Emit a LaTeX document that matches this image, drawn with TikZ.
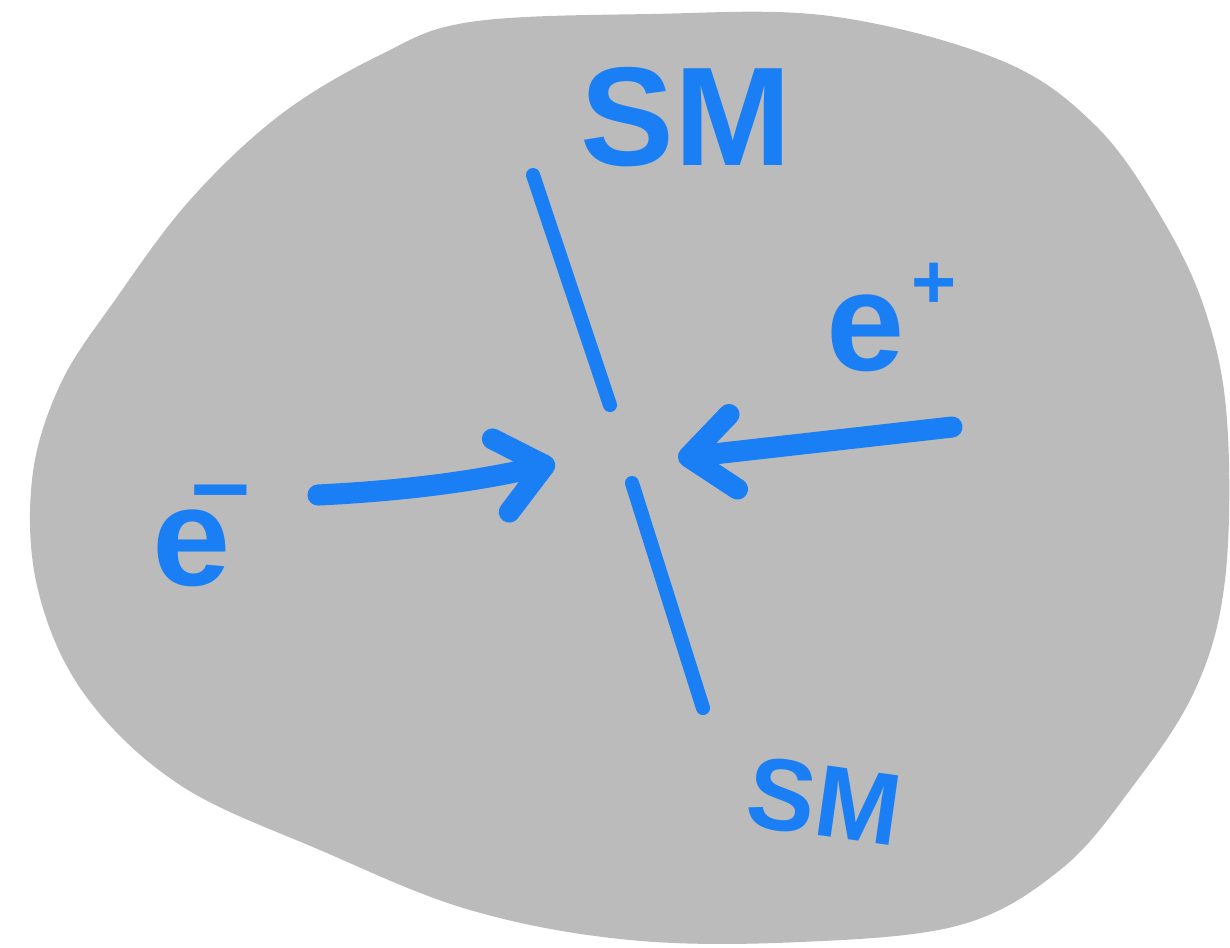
\documentclass[tikz,border=0pt]{standalone}
\usepackage{fontspec}
\setsansfont{Liberation Sans}
\usetikzlibrary{arrows.meta}
\definecolor{sketchblue}{HTML}{1A7FF5}
\definecolor{blobgray}{HTML}{BBBBBB}
\begin{document}
\begin{tikzpicture}[x=0.01cm,y=-0.01cm,
  leg/.style={sketchblue,line width=4pt,line cap=round},
  beam/.style={sketchblue,line width=6pt,line cap=round,
    -{Straight Barb[round,length=4.5mm,width=7.5mm]}},
  lbl/.style={text=sketchblue,inner sep=0pt,
    font=\sffamily\bfseries\fontsize{40}{40}\selectfont}]
  \useasboundingbox (0,0) rectangle (1230,947);
  % the grey blob behind the vertex
  \fill[blobgray] plot[smooth cycle,tension=0.6] coordinates {
    (470,22) (650,14) (830,16) (1000,60) (1095,125) (1160,215)
    (1205,310) (1227,420) (1225,580) (1195,690) (1130,790)
    (1060,870) (960,925) (800,942) (630,940) (470,910) (320,850)
    (180,785) (85,695) (38,590) (32,480) (60,385) (115,300)
    (190,200) (280,115) (380,55)};
  % vertex legs
  \coordinate (uptop) at (533,175);
  \coordinate (upbot) at (610,405);
  \coordinate (lowtop) at (632,483);
  \coordinate (lowbot) at (703,708);
  \draw[leg] (uptop) -- (upbot);
  \draw[leg] (lowtop) -- (lowbot);
  % incoming beams
  \coordinate (emtail) at (318,495);
  \coordinate (emhead) at (555,463);
  \coordinate (eptail) at (952,427);
  \coordinate (ephead) at (678,458);
  \draw[beam] (emtail) .. controls (420,490) and (490,478) .. (emhead);
  \draw[beam] (eptail) -- (ephead);
  % labels
  \node[lbl,anchor=base west] (smtop) at (580,165) {SM};
  \node[lbl,anchor=base west,rotate=-8,font=\sffamily\bfseries\fontsize{29}{29}\selectfont]
    (smbot) at (743,825) {SM};
  \node[lbl,anchor=base west] (eminus) at (152,585)
    {e\kern-0.28em\raisebox{0.47em}{\fontsize{30}{30}\selectfont --}};
  \node[lbl,anchor=base west] (eplus) at (826,370)
    {e\kern0.05em\raisebox{0.44em}{\fontsize{22}{22}\selectfont +}};
\end{tikzpicture}
\end{document}
